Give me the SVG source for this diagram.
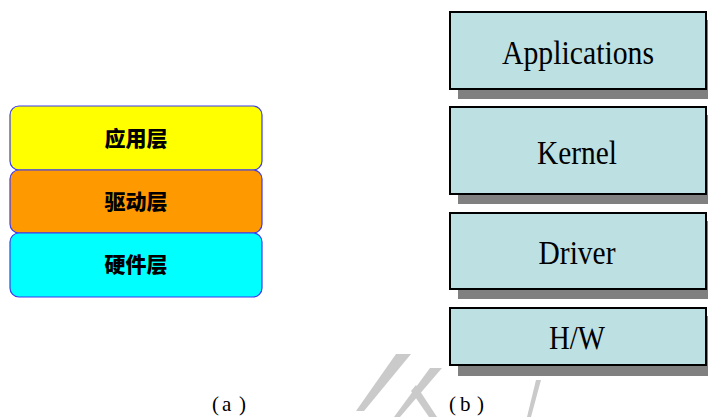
<svg xmlns="http://www.w3.org/2000/svg" width="708" height="417" viewBox="0 0 708 417">
<style>
.lay{stroke:#3b3bf0;stroke-width:1.2}
.cn{font-family:"Noto Sans CJK SC","Noto Sans CJK JP",sans-serif;font-weight:900;font-size:21px;fill:#000;text-anchor:middle}
.shadow{fill:#808080}
.box{fill:#bde0e3;stroke:#000;stroke-width:2}
.en{font-family:"Liberation Serif",serif;font-size:34px;fill:#000;text-anchor:middle}
.cap{font-family:"Liberation Serif",serif;font-size:21px;fill:#000}
.wm{fill:#cacaca}
</style>
<rect width="708" height="417" fill="#fff"/>
<g id="watermark">
<polygon class="wm" points="396,354 411,354 364,411 356,411"/>
<polygon class="wm" points="430,368 442,368 400,417 394,417"/>
<polygon class="wm" points="411,391 416,385 437,417 429,417"/>
<polygon class="wm" points="536,380 541,380 531,417 527,417"/>
</g>
<g id="app-layer">
<rect class="lay" x="10" y="106" width="252" height="64" rx="9" fill="#ffff00"/>
<text class="cn" x="136" y="146">应用层</text>
</g>
<g id="driver-layer">
<rect class="lay" x="10" y="170" width="252" height="63" rx="9" fill="#ff9900"/>
<text class="cn" x="136" y="209">驱动层</text>
</g>
<g id="hw-layer">
<rect class="lay" x="10" y="233" width="252" height="64" rx="9" fill="#00ffff"/>
<text class="cn" x="136" y="272">硬件层</text>
</g>
<g id="applications">
<rect class="shadow" x="458" y="20" width="250" height="79"/>
<rect class="box" x="450" y="12" width="256" height="77"/>
<text class="en" x="578" y="64" textLength="152" lengthAdjust="spacingAndGlyphs">Applications</text>
</g>
<g id="kernel">
<rect class="shadow" x="458" y="115" width="250" height="89"/>
<rect class="box" x="450" y="107" width="256" height="87"/>
<text class="en" x="577" y="164" textLength="80" lengthAdjust="spacingAndGlyphs">Kernel</text>
</g>
<g id="driver">
<rect class="shadow" x="458" y="221" width="250" height="78"/>
<rect class="box" x="450" y="213" width="256" height="76"/>
<text class="en" x="577" y="264" textLength="77" lengthAdjust="spacingAndGlyphs">Driver</text>
</g>
<g id="hw">
<rect class="shadow" x="458" y="316" width="250" height="60"/>
<rect class="box" x="450" y="308" width="256" height="57"/>
<text class="en" x="577" y="349" textLength="56" lengthAdjust="spacingAndGlyphs">H/W</text>
</g>
<g id="connectors"/>
<text class="cap" x="212 222 239" y="411">(a)</text>
<text class="cap" x="449 460 477" y="411">(b)</text>
</svg>
